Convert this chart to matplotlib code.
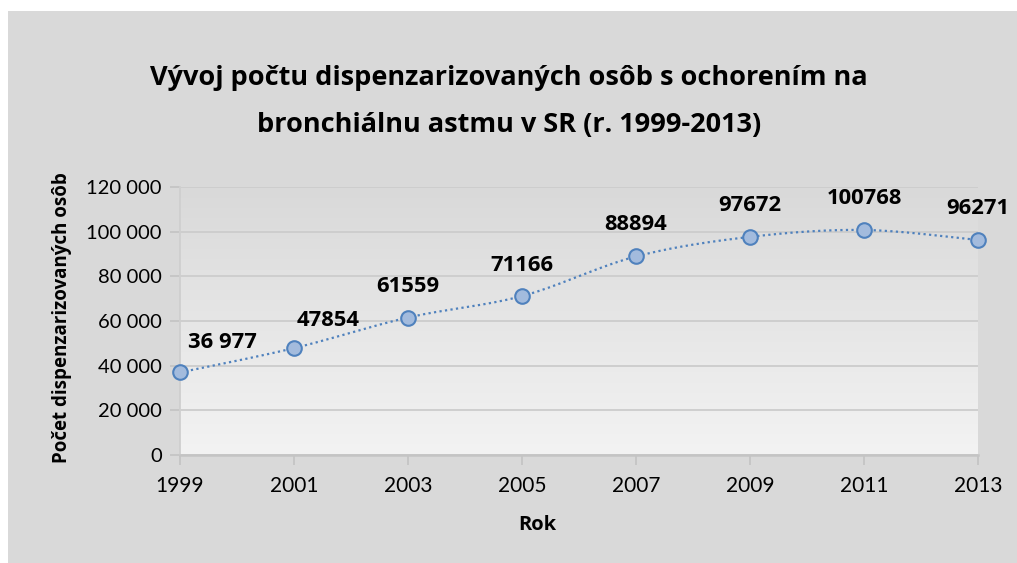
import matplotlib
matplotlib.use("Agg")
import matplotlib.pyplot as plt
import numpy as np
from matplotlib.patches import Rectangle
from matplotlib.ticker import FuncFormatter
from matplotlib.colors import LinearSegmentedColormap

years = [1999, 2001, 2003, 2005, 2007, 2009, 2011, 2013]
values = [36977, 47854, 61559, 71166, 88894, 97672, 100768, 96271]
value_labels = ["36 977", "47854", "61559", "71166", "88894", "97672", "100768", "96271"]
title_lines = ["Vývoj počtu dispenzarizovaných osôb s ochorením na",
               "bronchiálnu astmu v SR (r. 1999-2013)"]
xlabel = "Rok"
ylabel = "Počet dispenzarizovaných osôb"

# label offsets in pixels (style)
label_dx = [42, 34, 0, 0, 0, 0, 0, 0]
label_dy = [30, 28, 31, 31, 32, 31, 31, 31]

plt.rcParams['font.family'] = ['Lato', 'DejaVu Sans']
BOLD = ['Open Sans', 'DejaVu Sans']

W, H = 1017, 563
fig = plt.figure(figsize=(W / 100, H / 100), dpi=100, facecolor='white')
fig.patches.append(Rectangle((8 / W, 0), 1 - 8 / W, 1 - 11 / H, transform=fig.transFigure,
                             facecolor='#d9d9d9', edgecolor='none', zorder=-10))

ax = fig.add_axes([180 / W, (563 - 455) / H, (978 - 180) / W, (455 - 187) / H])
ax.set_facecolor('none')

ax.set_xlim(1999, 2013)
ax.set_ylim(0, 120000)

# gradient background for plot area
grad = np.linspace(0, 1, 256).reshape(-1, 1)
cmap = LinearSegmentedColormap.from_list('g', ['#f3f3f3', '#d9d9d9'])
ax.imshow(grad, extent=[1999, 2013, 0, 120000], origin='lower', aspect='auto',
          cmap=cmap, zorder=0, interpolation='bicubic')

ax.set_yticks(np.arange(0, 120001, 20000))
ax.set_xticks(years)
ax.yaxis.grid(True, color='#cccccc', linewidth=1.3, zorder=1)
ax.set_axisbelow(True)

# smoothed line (Bezier smoothing as in spreadsheet charts)
x = np.array(years, dtype=float)
y = np.array(values, dtype=float)
xs, ys = [], []
t = np.linspace(0, 1, 40)
n = len(x)
for i in range(n - 1):
    p0 = np.array([x[max(i - 1, 0)], y[max(i - 1, 0)]])
    p1 = np.array([x[i], y[i]])
    p2 = np.array([x[i + 1], y[i + 1]])
    p3 = np.array([x[min(i + 2, n - 1)], y[min(i + 2, n - 1)]])
    c1 = p1 + (p2 - p0) / 6.0
    c2 = p2 - (p3 - p1) / 6.0
    b = ((1 - t) ** 3)[:, None] * p1 + (3 * (1 - t) ** 2 * t)[:, None] * c1 + \
        (3 * (1 - t) * t ** 2)[:, None] * c2 + (t ** 3)[:, None] * p2
    xs.extend(b[:, 0])
    ys.extend(b[:, 1])
ax.plot(xs, ys, color='#4f81bd', linewidth=1.6, linestyle=(0, (1, 1.5)), zorder=3,
        clip_on=False)
ax.plot(years, values, linestyle='none', marker='o', markersize=10.5,
        markerfacecolor='#a3bbdd', markeredgecolor='#4f81bd', markeredgewidth=1.5,
        zorder=4, clip_on=False)

for xv, yv, lab, dx, dy in zip(years, values, value_labels, label_dx, label_dy):
    ax.annotate(lab, (xv, yv), xytext=(dx, dy), textcoords='offset pixels',
                ha='center', va='center', fontsize=15.8, fontweight='bold',
                family=BOLD, color='black', zorder=5, annotation_clip=False)

for s in ['top', 'right']:
    ax.spines[s].set_visible(False)
ax.spines['left'].set_color('#cfcfcf')
ax.spines['left'].set_linewidth(1.3)
ax.spines['bottom'].set_color('#c4c4c4')
ax.spines['bottom'].set_linewidth(1.8)
ax.tick_params(axis='y', direction='out', length=7, width=1.3, color='#c4c4c4',
               labelsize=14.5, pad=6, labelcolor='black')
ax.tick_params(axis='x', direction='out', length=7, width=1.3, color='#c4c4c4',
               labelsize=15, pad=8, labelcolor='black')
ax.yaxis.set_major_formatter(FuncFormatter(lambda v, p: f"{int(v):,}".replace(",", " ")))

for line, ypix in zip(title_lines, [78, 125]):
    fig.text(509 / W, 1 - ypix / H, line, ha='center', va='center', fontsize=19.5,
             fontweight='bold', family=BOLD)
fig.text(537 / W, 1 - 525 / H, xlabel, ha='center', va='center', fontsize=14.5,
         fontweight='bold', family=BOLD)
fig.text(62 / W, 1 - 318 / H, ylabel, ha='center', va='center', fontsize=13.5,
         fontweight='bold', family=BOLD, rotation=90)

fig.savefig('out.png', dpi=100, facecolor='white')
